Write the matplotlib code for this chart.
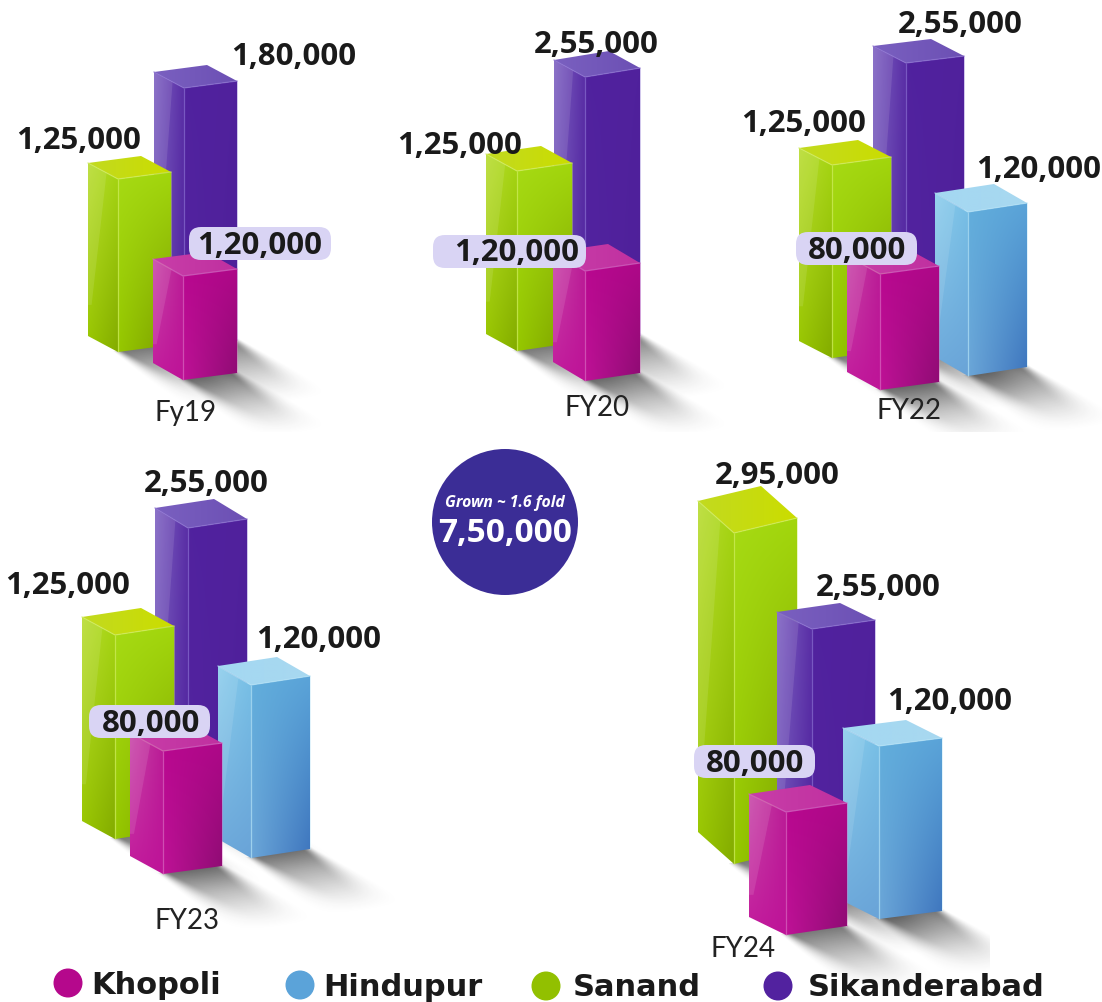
import numpy as np
import matplotlib
matplotlib.use("Agg")
import matplotlib.pyplot as plt
from matplotlib.colors import to_rgb
from matplotlib.patches import Circle, FancyBboxPatch, Polygon, Rectangle

# chart values
years = ["Fy19", "FY20", "FY22", "FY23", "FY24"]
khopoli = [120000, 120000, 80000, 80000, 80000]
hindupur = [None, None, 120000, 120000, 120000]
sanand = [125000, 125000, 125000, 125000, 295000]
sikanderabad = [180000, 255000, 255000, 255000, 255000]

# the artwork is not to scale, so the drawn bar lengths are read off separately
khopoli_len = [104, 110, 116, 123, 123]
hindupur_len = [None, None, 164, 173, 173]
sanand_len = [173, 180, 193, 204, 331]
sikanderabad_len = [259, 267, 290, 290, 270]

total_text = "7,50,000"
growth_text = "Grown ~ 1.6 fold"
legend_names = ["Khopoli", "Hindupur", "Sanand", "Sikanderabad"]

# layout, in pixels of the 1102x1002 canvas
# bar box: left x, front x, right x, front bottom y, drop to left, drop to right
boxes = {
    "Sikanderabad": [(154, 184, 237, 347, 16, 7), (554, 585, 640, 344, 17, 9), (873, 906, 964, 353, 17, 7),
                     (155, 188, 247, 818, 20, 9), (777, 812, 875, 899, 17, 9)],
    "Sanand": [(88, 118, 171, 352, 16, 7), (486, 517, 572, 351, 17, 8), (799, 832, 891, 358, 17, 8),
               (82, 115, 174, 839, 18, 9), (698, 734, 797, 864, 32, 15)],
    "Hindupur": [None, None, (935, 968, 1027, 376, 19, 9), (218, 251, 310, 858, 19, 9), (843, 879, 942, 919, 18, 8)],
    "Khopoli": [(153, 183, 237, 380, 17, 7), (553, 585, 640, 381, 19, 8), (847, 880, 939, 390, 18, 8),
                (130, 163, 222, 874, 18, 8), (749, 786, 847, 935, 18, 9)],
}
# label centres, pill boxes hold the Khopoli label
label_pos = {
    "Sikanderabad": [(294, 54), (596, 42), (960, 22), (206, 481), (878, 586)],
    "Sanand": [(79, 138), (460, 143), (804, 121), (68, 584), (777, 473)],
    "Hindupur": [None, None, (1039, 167), (319, 637), (950, 699)],
    "Khopoli": [(260, 243), (517, 250), (857, 248), (151, 722), (755, 761)],
}
pills = [(189, 227, 142, 33), (433, 235, 153, 33), (796, 232, 121, 33), (89, 705, 121, 33), (694, 745, 121, 33)]
year_pos = [(186, 413), (597, 408), (909, 411), (187, 921), (743, 949)]
shadow_clip = [(1102, 432), (1102, 432), (1102, 432), (1102, 1002), (990, 1002)]
legend_dots = [(68, 983), (300, 985), (546, 986), (778, 986)]
legend_text_x = [91, 323, 573, 808]

styles = {
    "Sikanderabad": dict(front=["#51229F", "#50219C", "#52249F", "#4F209A"],
                         left=["#7E62C2", "#5A2FA6", "#6A4BB4", "#5226A0"],
                         top=["#7A60C0", "#6C50B4"], edge="#8A70D0"),
    "Sanand": dict(front=["#A6DA14", "#A2D60C", "#96C800", "#7C9F00"],
                   left=["#B8DC30", "#A6D612", "#98C600", "#84AC00"],
                   top=["#C2DA20", "#CBDD00"], edge="#D0EC60"),
    "Hindupur": dict(front=["#62AEDC", "#5AA3D8", "#6BA6D8", "#3F76BE"],
                     left=["#8CCDEC", "#78C0E6", "#6CA8DA", "#6AA4D8"],
                     top=["#A4D8F2", "#A8D8F0"], edge="#B4E2F6"),
    "Khopoli": dict(front=["#B8088F", "#AE0888", "#BE1296", "#8F0C74"],
                    left=["#C848A8", "#BA1C96", "#C21A9C", "#BE1498"],
                    top=["#C83EA8", "#C030A0"], edge="#D868C0"),
}
dot_colors = ["#B5088C", "#5BA3D9", "#92C000", "#52229F"]
series = {"Khopoli": (khopoli, khopoli_len), "Hindupur": (hindupur, hindupur_len),
          "Sanand": (sanand, sanand_len), "Sikanderabad": (sikanderabad, sikanderabad_len)}
draw_order = ["Sikanderabad", "Sanand", "Hindupur", "Khopoli"]

label_font = ["Open Sans", "DejaVu Sans"]
ink = "#1A1A1A"


def indian(n):
    s = str(n)
    head, tail = s[:-3], s[-3:]
    parts = []
    while len(head) > 2:
        parts.insert(0, head[-2:])
        head = head[:-2]
    if head:
        parts.insert(0, head)
    return ",".join(parts + [tail])


def gradient(corners, n=40):
    tl, tr, bl, br = [np.array(to_rgb(c)) for c in corners]
    a = np.linspace(0, 1, n)[:, None, None]
    b = np.linspace(0, 1, n)[None, :, None]
    return (1 - a) * ((1 - b) * tl + b * tr) + a * ((1 - b) * bl + b * br)


def face(ax, pts, corners, z):
    pts = np.array(pts, dtype=float)
    x0, y0 = pts.min(axis=0)
    x1, y1 = pts.max(axis=0)
    im = ax.imshow(gradient(corners), extent=(x0, x1, y1, y0), origin="upper", aspect="auto",
                   interpolation="bilinear", zorder=z)
    im.set_clip_path(Polygon(pts, transform=ax.transData))


def draw_bar(ax, box, length, st, z):
    xl, xf, xr, yb, dl, dr = box
    F1 = (xf, yb)
    R1 = (xr, yb - dr)
    L1 = (xl, yb - dl)
    F0 = (xf, yb - length)
    R0 = (xr, yb - dr - length)
    L0 = (xl, yb - dl - length)
    B0 = (xl + xr - xf, yb - dl - dr - length)
    face(ax, [F0, R0, R1, F1], st["front"], z)
    face(ax, [L0, F0, F1, L1], st["left"], z)
    face(ax, [L0, B0, R0, F0], [st["top"][0], st["top"][1], st["top"][0], st["top"][1]], z)
    # gloss on the left face
    w = xf - xl
    ax.add_patch(Polygon([L0, (xl + 0.62 * w, L0[1] + 0.6 * dl), (xl + 0.12 * w, L0[1] + 0.82 * length),
                          (xl, L0[1] + 0.82 * length)], fc="white", alpha=0.10, ec="none", zorder=z))
    # pale edges
    ax.plot([xf, xf], [F0[1], F1[1]], color=st["edge"], lw=0.9, alpha=0.7, zorder=z, solid_capstyle="butt")
    ax.plot([L0[0], F0[0], R0[0]], [L0[1], F0[1], R0[1]], color=st["edge"], lw=0.9, alpha=0.7, zorder=z)
    ax.plot([R0[0], R1[0]], [R0[1], R1[1]], color=st["edge"], lw=0.7, alpha=0.4, zorder=z)


def bar_shadow(X, Y, box, clip):
    xl, xf, xr, yb, dl, dr = box
    ex, ey = xr - xf, -dr
    dx, dy = 88.0, 58.0
    det = ex * dy - ey * dx
    u = ((X - xf) * dy - (Y - yb) * dx) / det
    v = (ex * (Y - yb) - ey * (X - xf)) / det
    soft = 0.2 + 0.7 * np.clip(v, 0, 1)
    side = np.clip((u + soft * 0.4) / soft, 0, 1) * np.clip((1 + soft * 0.4 - u) / soft, 0, 1)
    side = side * side * (3 - 2 * side)
    fade = np.clip(1 - v, 0, 1) ** 1.5
    a = 0.62 * side * fade * (v > -0.02)
    return a * ((X <= clip[0]) & (Y <= clip[1]))


fig = plt.figure(figsize=(11.02, 10.02), dpi=100)
ax = fig.add_axes([0, 0, 1, 1])

# shadows, one layer under all bars
X, Y = np.meshgrid(np.arange(1102) + 0.5, np.arange(1002) + 0.5)
keep = np.ones_like(X)
for name in draw_order:
    for i, box in enumerate(boxes[name]):
        if box is not None:
            keep *= 1 - bar_shadow(X, Y, box, shadow_clip[i])
rgba = np.zeros((1002, 1102, 4))
rgba[..., :3] = 0.15
rgba[..., 3] = 1 - keep
ax.imshow(rgba, extent=(0, 1102, 1002, 0), origin="upper", aspect="auto", zorder=1)

for i, year in enumerate(years):
    order = draw_order if year != "FY24" else ["Sanand", "Sikanderabad", "Hindupur", "Khopoli"]
    for j, name in enumerate(order):
        value, length = series[name][0][i], series[name][1][i]
        if value is None:
            continue
        draw_bar(ax, boxes[name][i], length, styles[name], 3 + j)
        cx, cy = label_pos[name][i]
        ax.text(cx, cy + 2.5, indian(value), fontsize=22.4, fontweight="bold", family=label_font, color=ink,
                ha="center", va="center", zorder=12)
    px, py, pw, ph = pills[i]
    ax.add_patch(FancyBboxPatch((px + 10, py + 10), pw - 20, ph - 20, boxstyle="round,pad=10,rounding_size=12",
                                fc="#D9D4F4", ec="none", zorder=10, mutation_aspect=1))
    if year == "FY24":
        ax.add_patch(Rectangle((706, 925), 75, 40, fc="white", ec="none", zorder=2))
    ax.text(year_pos[i][0], year_pos[i][1], year, fontsize=20, family=["Lato", "DejaVu Sans"], color="#222222",
            ha="center", va="center", zorder=12)

# total badge
ax.add_patch(Circle((505, 522), 73, fc="#3B2D96", ec="none", zorder=6))
ax.text(505, 503, growth_text, fontsize=11.3, fontweight="bold", style="italic", family=label_font, color="white",
        ha="center", va="center", zorder=12)
ax.text(505, 534, total_text, fontsize=24, fontweight="bold", family=label_font, color="white",
        ha="center", va="center", zorder=12)

# legend
for (cx, cy), c, tx, name in zip(legend_dots, dot_colors, legend_text_x, legend_names):
    ax.add_patch(Circle((cx, cy), 14.5, fc=c, ec="none", zorder=12))
    ax.text(tx, cy + 2, name, fontsize=22, fontweight="bold", family="DejaVu Sans", color=ink,
            ha="left", va="center", zorder=13)

ax.set_xlim(0, 1102)
ax.set_ylim(1002, 0)
ax.axis("off")
fig.savefig("out.png", dpi=100, facecolor="white")
